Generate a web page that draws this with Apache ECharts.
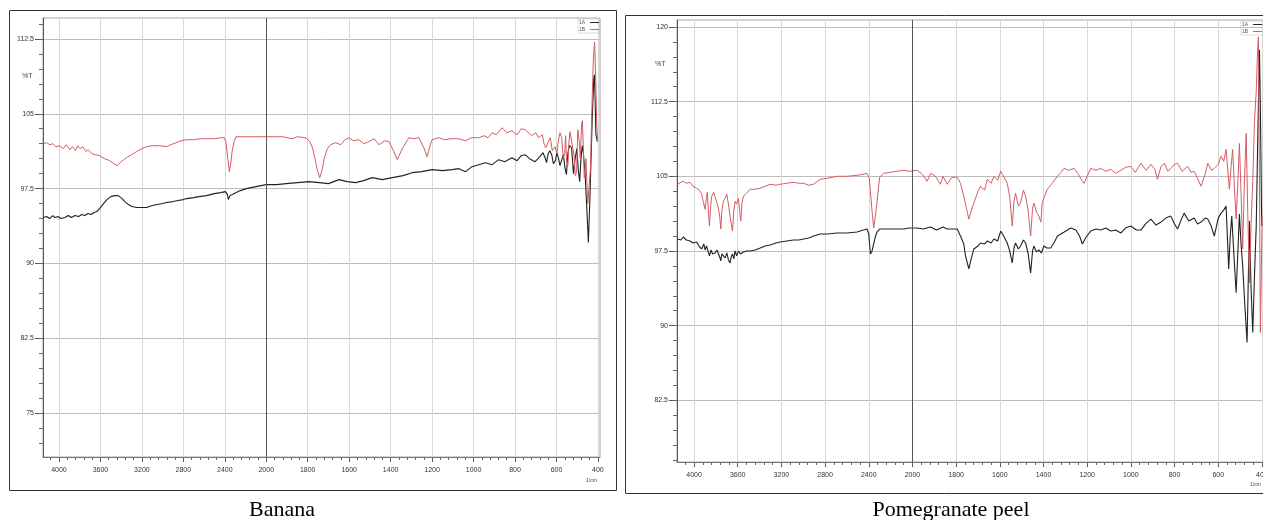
<!DOCTYPE html>
<html><head><meta charset="utf-8">
<script src="https://cdn.jsdelivr.net/npm/echarts@6/dist/echarts.min.js"></script>
<style>html,body{margin:0;padding:0;background:#fff}#c{width:1263px;height:520px}</style>
</head><body><div id="c"></div>
<script>
// ---- data (wavenumber cm^-1, %T) ----
const xTickLabels = [4000,3600,3200,2800,2400,2000,1800,1600,1400,1200,1000,800,600,400];
const bananaYTicks = [75,82.5,90,97.5,105,112.5];
const pomYTicks = [82.5,90,97.5,105,112.5,120];
const seriesNames = ['1A','1B'];
const captions = ['Banana','Pomegranate peel'];

const bananaA = [[4150,94.6],[4120,94.7],[4090,94.5],[4060,94.8],[4038,94.6],[4010,94.7],[3980,94.5],[3942,94.6],[3910,94.8],[3880,94.6],[3846,94.8],[3810,94.7],[3780,94.9],[3750,94.8],[3720,95.0],[3690,94.9],[3660,95.1],[3635,95.2],[3600,95.6],[3570,96.0],[3538,96.4],[3500,96.7],[3462,96.8],[3430,96.8],[3413,96.7],[3390,96.5],[3365,96.2],[3330,95.9],[3298,95.7],[3250,95.6],[3200,95.6],[3154,95.6],[3100,95.8],[3050,95.9],[3000,96.0],[2962,96.1],[2900,96.2],[2850,96.3],[2800,96.4],[2769,96.5],[2700,96.6],[2650,96.7],[2577,96.8],[2500,97.0],[2440,97.1],[2394,97.2],[2375,96.9],[2365,96.4],[2350,96.8],[2327,96.9],[2290,97.1],[2250,97.3],[2192,97.5],[2100,97.7],[2000,97.9],[1950,97.9],[1904,98.0],[1850,98.1],[1793,98.2],[1745,98.1],[1700,98.0],[1649,98.4],[1610,98.2],[1569,98.1],[1530,98.3],[1489,98.6],[1440,98.4],[1392,98.6],[1340,98.8],[1296,99.1],[1250,99.2],[1200,99.4],[1150,99.3],[1104,99.4],[1070,99.5],[1039,99.2],[1007,99.7],[975,99.9],[943,100.1],[910,99.9],[879,100.4],[850,100.2],[815,100.6],[790,100.3],[770,100.8],[751,100.9],[730,100.5],[703,100.2],[680,100.7],[665,101.1],[655,100.6],[648,100.1],[640,101.0],[632,101.3],[623,100.9],[615,100.0],[605,100.3],[598,101.1],[591,100.6],[583,99.8],[575,100.0],[567,100.9],[559,99.6],[552,98.9],[545,101.0],[538,101.8],[527,101.6],[518,99.0],[510,100.5],[502,101.5],[494,99.2],[488,98.2],[482,100.4],[476,101.8],[470,101.0],[462,99.0],[454,95.6],[446,92.1],[438,97.0],[427,104.9],[420,108.5],[417,108.9],[413,106.0],[410,103.0],[403,102.2]];

const bananaB = [[4150,102.0],[4120,102.1],[4087,101.9],[4060,102.0],[4030,101.7],[3990,101.8],[3960,101.5],[3930,101.9],[3894,101.4],[3870,101.7],[3840,101.3],[3820,101.8],[3798,101.5],[3770,101.7],[3740,101.2],[3720,101.4],[3702,101.2],[3680,101.0],[3650,100.9],[3606,100.8],[3560,100.5],[3510,100.3],[3470,100.0],[3439,99.8],[3400,100.2],[3349,100.6],[3300,100.9],[3253,101.2],[3200,101.5],[3157,101.7],[3100,101.8],[3029,101.8],[2965,101.7],[2920,101.9],[2869,102.1],[2820,102.3],[2772,102.4],[2700,102.4],[2640,102.5],[2580,102.5],[2500,102.5],[2440,102.6],[2404,102.6],[2388,102.1],[2372,100.6],[2356,99.2],[2340,100.2],[2330,101.2],[2308,102.3],[2292,102.7],[2250,102.7],[2196,102.7],[2100,102.7],[2000,102.7],[1970,102.7],[1920,102.7],[1874,102.5],[1850,102.7],[1809,102.6],[1790,102.2],[1777,101.6],[1765,100.5],[1753,99.3],[1742,98.6],[1730,99.4],[1721,100.5],[1705,101.5],[1690,101.9],[1665,102.1],[1640,101.9],[1620,102.4],[1601,102.6],[1580,102.3],[1553,102.4],[1530,102.0],[1505,102.2],[1480,102.5],[1456,101.9],[1430,102.3],[1408,102.2],[1384,101.2],[1368,100.4],[1344,101.5],[1312,102.6],[1290,102.5],[1264,102.6],[1240,101.6],[1224,100.7],[1210,101.8],[1200,102.4],[1168,102.6],[1140,102.4],[1110,102.5],[1072,102.5],[1040,102.3],[1010,102.6],[975,102.6],[950,102.8],[930,102.6],[911,103.1],[890,102.9],[863,103.6],[840,103.1],[815,103.3],[790,102.9],[770,103.5],[751,103.4],[720,102.8],[700,103.1],[687,102.6],[668,102.9],[660,102.0],[652,101.6],[639,102.2],[630,102.6],[620,101.3],[607,101.7],[598,101.0],[590,102.4],[583,103.1],[575,102.6],[567,100.6],[560,101.0],[556,102.8],[551,100.2],[545,99.8],[540,102.1],[535,103.2],[527,103.0],[521,101.5],[515,100.8],[509,98.8],[503,99.2],[497,103.4],[490,102.2],[485,100.5],[479,103.9],[475,104.3],[470,101.5],[466,98.6],[462,99.0],[458,100.5],[452,97.5],[449,96.0],[443,95.9],[436,99.5],[430,104.9],[422,110.5],[416,112.2],[410,108.0],[406,104.0],[402,102.5]];

const pomA = [[4150,98.7],[4120,98.6],[4098,98.9],[4070,98.6],[4037,98.5],[4010,98.3],[3976,98.4],[3950,97.9],[3930,97.7],[3910,98.2],[3899,97.6],[3885,98.0],[3870,97.4],[3859,97.0],[3845,97.6],[3830,97.2],[3807,97.3],[3790,97.6],[3777,97.5],[3765,96.9],[3755,96.5],[3745,97.2],[3731,97.4],[3715,96.8],[3700,97.3],[3685,96.6],[3670,96.3],[3660,96.9],[3648,97.2],[3636,96.7],[3624,97.5],[3610,97.0],[3593,97.5],[3575,97.2],[3547,97.4],[3520,97.5],[3486,97.5],[3440,97.6],[3394,97.8],[3350,98.0],[3303,98.1],[3250,98.3],[3211,98.4],[3150,98.5],[3089,98.6],[3040,98.6],[2997,98.7],[2950,98.8],[2905,99.0],[2844,99.2],[2780,99.2],[2691,99.3],[2600,99.3],[2508,99.4],[2450,99.6],[2416,99.7],[2400,99.2],[2385,97.2],[2370,97.5],[2355,98.2],[2340,98.9],[2325,99.4],[2300,99.7],[2264,99.7],[2200,99.7],[2150,99.7],[2080,99.7],[2030,99.8],[1979,99.8],[1950,99.7],[1917,99.9],[1890,99.6],[1860,99.9],[1841,99.7],[1820,99.7],[1795,99.7],[1780,99.0],[1765,98.2],[1757,97.0],[1742,95.7],[1730,96.8],[1719,97.7],[1700,98.0],[1688,98.3],[1670,98.2],[1657,98.5],[1640,98.3],[1627,98.7],[1610,98.5],[1596,99.5],[1580,98.9],[1566,98.3],[1555,97.5],[1543,96.3],[1535,97.8],[1528,98.3],[1515,97.7],[1505,98.0],[1492,98.6],[1482,98.3],[1470,97.2],[1459,95.3],[1450,97.5],[1444,98.0],[1432,97.4],[1421,97.6],[1410,97.3],[1398,98.0],[1385,97.8],[1367,97.8],[1350,98.4],[1336,99.0],[1305,99.4],[1275,99.8],[1252,99.6],[1235,99.0],[1222,98.2],[1205,98.9],[1184,99.5],[1160,99.7],[1138,99.6],[1115,99.8],[1092,99.5],[1070,99.6],[1046,99.3],[1025,99.8],[1000,100.0],[975,99.6],[954,99.6],[930,100.3],[908,100.7],[885,100.1],[862,100.4],[840,100.8],[817,101.0],[800,100.2],[786,99.7],[770,100.6],[756,101.3],[735,100.5],[710,100.8],[695,100.2],[679,100.4],[660,100.8],[648,100.7],[632,100.0],[618,99.0],[600,100.8],[587,101.3],[575,101.6],[564,102.0],[552,95.7],[545,99.0],[538,101.0],[528,97.0],[518,93.3],[510,97.5],[503,101.2],[495,98.0],[488,96.0],[478,92.0],[468,88.3],[462,95.0],[457,100.5],[450,94.0],[442,89.3],[434,95.0],[426,100.0],[418,110.0],[411,117.7],[406,110.0],[401,100.0]];

const pomB = [[4150,104.2],[4120,104.4],[4098,104.5],[4070,104.3],[4037,104.4],[4010,104.0],[3976,103.8],[3950,103.6],[3930,103.2],[3915,102.4],[3899,101.7],[3885,103.0],[3878,103.4],[3868,101.5],[3859,100.0],[3848,102.0],[3838,103.0],[3820,103.4],[3807,103.5],[3790,102.3],[3777,101.8],[3765,101.0],[3755,99.7],[3745,101.6],[3731,102.5],[3715,102.8],[3700,103.2],[3685,102.2],[3670,101.0],[3658,100.2],[3648,99.5],[3636,101.5],[3624,102.5],[3610,102.2],[3593,102.8],[3582,101.5],[3572,100.5],[3560,102.4],[3547,103.0],[3520,103.3],[3486,103.7],[3440,103.7],[3394,103.8],[3350,104.0],[3303,104.2],[3250,104.1],[3211,104.2],[3150,104.3],[3089,104.4],[3040,104.3],[2997,104.3],[2950,104.1],[2905,104.2],[2870,104.5],[2844,104.7],[2780,104.8],[2691,105.0],[2600,105.0],[2508,105.1],[2450,105.2],[2416,105.3],[2395,104.8],[2385,103.5],[2370,101.5],[2355,99.8],[2340,101.0],[2325,102.3],[2310,104.0],[2300,104.9],[2264,105.3],[2200,105.4],[2150,105.5],[2080,105.6],[2030,105.5],[1979,105.6],[1960,105.3],[1948,105.0],[1933,104.5],[1917,105.3],[1895,105.0],[1872,104.2],[1860,105.0],[1841,104.2],[1820,104.9],[1795,104.9],[1780,104.3],[1765,103.0],[1742,100.7],[1730,101.6],[1719,102.3],[1700,103.5],[1688,104.0],[1670,103.6],[1657,104.7],[1640,104.3],[1627,105.0],[1610,104.6],[1596,105.5],[1580,104.9],[1566,104.3],[1555,103.0],[1543,100.0],[1535,102.5],[1528,103.3],[1515,102.0],[1505,102.3],[1492,103.6],[1482,103.0],[1470,101.5],[1459,99.0],[1450,101.8],[1444,102.3],[1432,101.4],[1421,101.0],[1412,100.4],[1406,102.3],[1395,103.0],[1382,103.7],[1360,104.3],[1336,105.0],[1320,105.4],[1306,105.8],[1285,105.6],[1260,105.8],[1240,105.2],[1225,104.6],[1214,104.3],[1200,105.0],[1184,105.8],[1160,105.6],[1138,105.8],[1115,105.5],[1092,105.7],[1070,105.3],[1046,105.6],[1025,105.9],[1000,106.0],[980,105.4],[954,106.3],[930,105.6],[908,106.2],[890,105.7],[878,104.7],[862,106.0],[847,106.3],[830,105.5],[817,105.8],[800,106.2],[786,106.3],[765,105.5],[740,106.0],[725,105.4],[710,105.5],[695,104.8],[679,104.0],[660,105.2],[648,106.3],[630,105.6],[618,105.8],[600,106.2],[587,107.0],[575,106.5],[564,107.7],[549,103.7],[541,106.0],[534,107.7],[526,104.0],[518,100.7],[510,104.5],[503,108.3],[495,103.0],[488,97.7],[480,104.5],[472,109.3],[465,101.5],[457,94.3],[450,100.0],[442,104.5],[434,110.5],[426,113.5],[420,117.5],[416,119.0],[411,104.0],[407,89.3],[403,95.0],[399,101.0]];

// ---- axis transform: FTIR scale change at 2000 cm-1 (upper range compressed x2) ----
function toT(wn){ return wn <= 2000 ? wn : 2000 + (wn - 2000) / 2; }
function fromT(t){ return Math.round(t <= 2000 ? t : 2000 + (t - 2000) * 2); }
const majorT = xTickLabels.map(toT);
const minorT = []; for (let t = 400; t <= 3040; t += 40) minorT.push(t);
function yMinor(lo, hi){ const a=[]; for (let v = lo; v <= hi + 1e-6; v += 1.5) a.push(+v.toFixed(1)); return a; }

const RED = '#d45c63', BLACK = '#222';
const panels = [
  {left:43, top:18, width:557, height:439, xmin:390, xmax:3077, ymin:70.6, ymax:114.6, yTicks:bananaYTicks, yMin:yMinor(72,114), A:bananaA, B:bananaB},
  {left:677, top:20, width:586, height:442, xmin:395, xmax:3078, ymin:76.3, ymax:120.7, yTicks:pomYTicks, yMin:yMinor(76.5,120), A:pomA, B:pomB}
];

const grid=[], xAxis=[], yAxis=[], series=[], legend=[];
panels.forEach((p,i)=>{
  grid.push({left:p.left, top:p.top, width:p.width, height:p.height, show:true, borderColor:'#a8a8a8', borderWidth:1, backgroundColor:'#fff', containLabel:false, outerBoundsMode:'none'});
  xAxis.push({type:'value', gridIndex:i, inverse:true, min:p.xmin, max:p.xmax, position:'bottom',
    axisLine:{show:true, lineStyle:{color:'#777', width:1}},
    axisTick:{show:true, customValues:majorT, length:5, lineStyle:{color:'#555'}},
    axisLabel:{show:true, customValues:majorT, formatter:v=>String(fromT(v)), fontSize:7, color:'#333', margin:10, fontFamily:'Liberation Sans', hideOverlap:false},
    splitLine:{show:true, lineStyle:{color:'#d8d8d8', width:1}}});
  xAxis.push({type:'value', gridIndex:i, inverse:true, min:p.xmin, max:p.xmax, position:'bottom',
    axisLine:{show:false}, axisTick:{show:true, customValues:minorT, length:3, lineStyle:{color:'#666'}},
    axisLabel:{show:false}, splitLine:{show:false}});
  yAxis.push({type:'value', gridIndex:i, min:p.ymin, max:p.ymax, position:'left',
    axisLine:{show:true, lineStyle:{color:'#555', width:1}},
    axisTick:{show:true, customValues:p.yTicks, length:8, lineStyle:{color:'#555'}},
    axisLabel:{show:true, customValues:p.yTicks, fontSize:7, color:'#333', margin:9, fontFamily:'Liberation Sans'},
    splitLine:{show:true, lineStyle:{color:'#bdbdbd', width:1}}});
  yAxis.push({type:'value', gridIndex:i, min:p.ymin, max:p.ymax, position:'left',
    axisLine:{show:false}, axisTick:{show:true, customValues:p.yMin, length:4, lineStyle:{color:'#666'}},
    axisLabel:{show:false}, splitLine:{show:false}});
  series.push({name:seriesNames[0], type:'line', xAxisIndex:2*i, yAxisIndex:2*i, showSymbol:false, symbol:'none',
    data:p.A.map(d=>[toT(d[0]), d[1]]), lineStyle:{color:BLACK, width:1.1}, itemStyle:{color:BLACK}, animation:false,
    markLine:{silent:true, symbol:'none', label:{show:false}, lineStyle:{color:'#555', type:'solid', width:1}, data:[{xAxis:toT(2000)}], animation:false}});
  series.push({name:seriesNames[1], type:'line', xAxisIndex:2*i, yAxisIndex:2*i, showSymbol:false, symbol:'none',
    data:p.B.map(d=>[toT(d[0]), d[1]]), lineStyle:{color:RED, width:1}, itemStyle:{color:RED}, animation:false});
  legend.push({data:seriesNames, orient:'vertical', left:p.left+p.width-22, top:p.top+1, icon:'rect', itemWidth:9, itemHeight:1, itemGap:2,
    align:'right', padding:1, borderColor:'#bbb', borderWidth:0.5, textStyle:{fontSize:5, color:'#555', padding:0}, selectedMode:false});
});

const chart = echarts.init(document.getElementById('c'), null, {renderer:'canvas'});
chart.setOption({
  animation:false, backgroundColor:'#fff',
  grid, xAxis, yAxis, series, legend,
  graphic:[
    {type:'rect', shape:{x:9.5, y:10.5, width:607, height:480}, style:{fill:'none', stroke:'#333', lineWidth:1}, z:0},
    {type:'rect', shape:{x:625.5, y:15.5, width:660, height:478}, style:{fill:'none', stroke:'#333', lineWidth:1}, z:0},
    {type:'text', x:22, y:73, style:{text:'%T', fontSize:7, fill:'#444', fontFamily:'Liberation Sans'}},
    {type:'text', x:655, y:61, style:{text:'%T', fontSize:7, fill:'#444', fontFamily:'Liberation Sans'}},
    {type:'text', x:586, y:478, style:{text:'1/cm', fontSize:5, fill:'#444', fontFamily:'Liberation Sans'}},
    {type:'text', x:1250, y:482, style:{text:'1/cm', fontSize:5, fill:'#444', fontFamily:'Liberation Sans'}},
    {type:'text', x:282, y:499, style:{text:captions[0], fontSize:22, fill:'#000', fontFamily:'Liberation Serif', align:'center'}},
    {type:'text', x:951, y:499, style:{text:captions[1], fontSize:22, fill:'#000', fontFamily:'Liberation Serif', align:'center'}}
  ]
});
</script></body></html>
